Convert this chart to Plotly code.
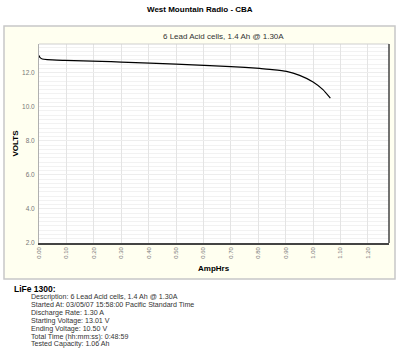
import plotly.graph_objects as go

amp_hrs = [0.000, 0.004, 0.012, 0.030, 0.094, 0.228, 0.300, 0.404, 0.500, 0.623, 0.700, 0.805, 0.842, 0.903, 0.951, 1.000, 1.036, 1.063]
volts   = [13.01, 12.88, 12.80, 12.76, 12.72, 12.66, 12.62, 12.56, 12.50, 12.41, 12.35, 12.25, 12.19, 12.07, 11.84, 11.45, 11.00, 10.50]

x_ticks = [round(i * 0.1, 2) for i in range(13)]
x_tick_labels = ["%.2f" % v for v in x_ticks]
y_ticks = [2, 4, 6, 8, 10, 12]
y_tick_labels = ["%.1f" % v for v in y_ticks]

main_title = "West Mountain Radio - CBA"
sub_title = "6 Lead Acid cells, 1.4 Ah @ 1.30A"
info_head = "LiFe 1300:"
info_lines = [
    "Description: 6 Lead Acid cells, 1.4 Ah @ 1.30A",
    "Started At: 03/05/07 15:58:00 Pacific Standard Time",
    "Discharge Rate: 1.30 A",
    "Starting Voltage: 13.01 V",
    "Ending Voltage: 10.50 V",
    "Total Time (hh:mm:ss): 0:48:59",
    "Tested Capacity: 1.06 Ah",
]

W, H = 400, 352
L, R, T, B = 39, 389, 44, 243
FONT = "Arial, Liberation Sans, sans-serif"

def px(x):
    return (x - L) / (R - L)

def py(y):
    return (B - y) / (B - T)

fig = go.Figure()
fig.add_trace(go.Scatter(x=amp_hrs, y=volts, mode="lines",
                         line=dict(color="black", width=1.2, shape="spline", smoothing=0.6),
                         hoverinfo="skip"))

shapes = [
    dict(type="rect", xref="paper", yref="paper", x0=px(4), x1=px(395), y0=py(279), y1=py(26),
         fillcolor="#FFFFF0", line=dict(color="#c8c8c8", width=1.5), layer="below"),
    dict(type="rect", xref="paper", yref="paper", x0=0, x1=1, y0=0, y1=1,
         fillcolor="white", line=dict(width=0), layer="below"),
    dict(type="line", xref="paper", yref="paper", x0=0, x1=1, y0=1, y1=1,
         line=dict(color="#cfcfcf", width=1)),
    dict(type="line", xref="paper", yref="paper", x0=1, x1=1, y0=0, y1=1,
         line=dict(color="#444444", width=1.5)),
]

annotations = [
    dict(text="<b>" + main_title + "</b>", x=px(200), y=py(9), xref="paper", yref="paper",
         showarrow=False, font=dict(family=FONT, size=8, color="black"), xanchor="center", yanchor="middle"),
    dict(text=sub_title, x=px(223), y=py(37), xref="paper", yref="paper",
         showarrow=False, font=dict(family=FONT, size=8, color="#333"), xanchor="center", yanchor="middle"),
    dict(text="<b>VOLTS</b>", x=px(15), y=py(143.5), xref="paper", yref="paper", textangle=-90,
         showarrow=False, font=dict(family=FONT, size=8, color="black"), xanchor="center", yanchor="middle"),
    dict(text="<b>AmpHrs</b>", x=px(214), y=py(268), xref="paper", yref="paper",
         showarrow=False, font=dict(family=FONT, size=8, color="black"), xanchor="center", yanchor="middle"),
    dict(text="<b>" + info_head + "</b>", x=px(12), y=py(288.5), xref="paper", yref="paper",
         showarrow=False, font=dict(family=FONT, size=8.5, color="black"), xanchor="left", yanchor="middle"),
]
for i, line in enumerate(info_lines):
    annotations.append(dict(text=line, x=px(30), y=py(297 + i * 7.9), xref="paper", yref="paper",
                            showarrow=False, font=dict(family=FONT, size=7.1, color="#333"),
                            xanchor="left", yanchor="middle", borderpad=0))

fig.update_layout(
    width=W, height=H,
    margin=dict(l=L, r=W - R, t=T, b=H - B, pad=0),
    paper_bgcolor="white", plot_bgcolor="white",
    showlegend=False,
    shapes=shapes, annotations=annotations,
    font=dict(family=FONT),
)
fig.update_xaxes(range=[0, 1.277], tickmode="array", tickvals=x_ticks, ticktext=x_tick_labels,
                 tickangle=-90, tickfont=dict(size=6, color="#777"),
                 showgrid=True, gridcolor="#e4e4e4", gridwidth=1,
                 showline=True, linecolor="#444444", linewidth=1.5,
                 ticks="", zeroline=False, fixedrange=True)
fig.update_yaxes(range=[2, 13.68], tickmode="array", tickvals=y_ticks, ticktext=y_tick_labels,
                 tickfont=dict(size=6.5, color="#777"), ticklabelstandoff=2,
                 showgrid=True, gridcolor="#ededed", gridwidth=1,
                 minor=dict(dtick=0.25, tick0=2, showgrid=True, gridcolor="#f2f2f2", gridwidth=1),
                 showline=True, linecolor="#b0b0b0", linewidth=1,
                 ticks="", zeroline=False, fixedrange=True)

fig.write_html("out.html")
